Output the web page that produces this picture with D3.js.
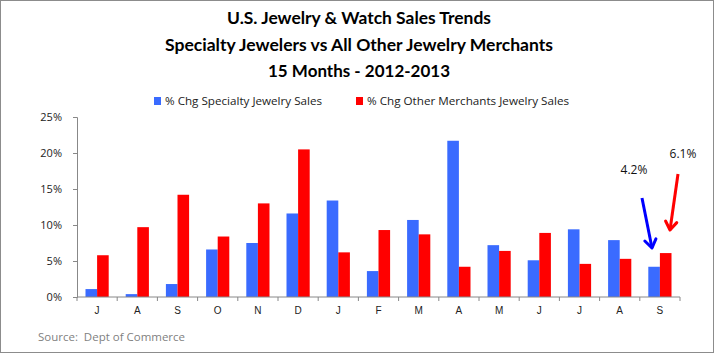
<!DOCTYPE html>
<html><head><meta charset="utf-8">
<script src="https://cdn.jsdelivr.net/npm/d3@7"></script>
<style>body{margin:0;background:#fff}svg{display:block}</style>
</head><body>
<script>
const months = ["J","A","S","O","N","D","J","F","M","A","M","J","J","A","S"];
const specialty = [1.1,0.4,1.8,6.6,7.5,11.6,13.4,3.6,10.7,21.7,7.2,5.1,9.4,7.9,4.2];
const otherMerchants = [5.8,9.7,14.2,8.4,13.0,20.5,6.2,9.3,8.7,4.2,6.4,8.9,4.6,5.3,6.1];
const yTicks = [0,5,10,15,20,25];
const seriesNames = ["% Chg Specialty Jewelry Sales","% Chg Other Merchants Jewelry Sales"];
const titleLines = ["U.S. Jewelry & Watch Sales Trends","Specialty Jewelers vs All Other Jewelry Merchants","15 Months - 2012-2013"];
const colors = ["#3a6bff","#ff0000"];

const W=716,H=355;
const svg=d3.select("body").append("svg").attr("width",W).attr("height",H);
svg.append("rect").attr("x",0.5).attr("y",0.5).attr("width",713).attr("height",352).attr("fill","#fff").attr("stroke","#8c8c8c");

const x=d3.scaleBand().domain(d3.range(months.length)).range([77,680]);
const y=d3.scaleLinear().domain([0,25]).range([297,117]);

// titles
const tw=[264,388,182];
const ty=[24,51,77];
titleLines.forEach((t,i)=>{
  svg.append("text").attr("x",359).attr("y",ty[i]).attr("text-anchor","middle")
    .attr("font-family","Lato, 'Open Sans', sans-serif").attr("font-weight","bold").attr("font-size",17)
    .attr("fill","#000").attr("textLength",tw[i]).attr("lengthAdjust","spacingAndGlyphs").text(t);
});

// legend
const lx=[154,356], lw=[157,202];
seriesNames.forEach((s,i)=>{
  svg.append("rect").attr("x",lx[i]).attr("y",97).attr("width",7).attr("height",8).attr("fill",colors[i]);
  svg.append("text").attr("x",lx[i]+11).attr("y",105).attr("font-family","'Open Sans', sans-serif").attr("font-size",11)
    .attr("fill","#222").attr("textLength",lw[i]).attr("lengthAdjust","spacingAndGlyphs").text(s);
});

// bars
const bw=11.6;
const data=[specialty,otherMerchants];
data.forEach((vals,si)=>{
  svg.append("g").selectAll("rect").data(vals).join("rect")
    .attr("x",(d,i)=>x(i)+x.bandwidth()/2-bw+si*bw)
    .attr("width",bw)
    .attr("y",d=>y(d)).attr("height",d=>y(0)-y(d))
    .attr("fill",colors[si]);
});

// y axis
const yAxis=svg.append("g").attr("transform","translate(77,0)")
  .call(d3.axisLeft(y).tickValues(yTicks).tickSize(4).tickFormat(d=>d+"%"));
yAxis.select(".domain").attr("stroke","#888");
yAxis.selectAll(".tick line").attr("stroke","#888");
yAxis.selectAll("text").attr("font-family","'Open Sans', sans-serif").attr("font-size",11).attr("fill","#222").attr("x",-15);

// x axis
const xAxis=svg.append("g").attr("transform","translate(0,297)")
  .call(d3.axisBottom(x).tickSize(0).tickFormat(i=>months[i]));
xAxis.select(".domain").attr("stroke","#888").attr("d","M77,0H680");
xAxis.selectAll("text").attr("font-family","'Liberation Sans', Arial, sans-serif").attr("font-size",10).attr("fill","#222").attr("dy","1.4em");
svg.append("g").selectAll("line").data(d3.range(months.length+1)).join("line")
  .attr("x1",i=>77+i*x.step()).attr("x2",i=>77+i*x.step()).attr("y1",297).attr("y2",301).attr("stroke","#888");

// annotations
const ann=[{t:"4.2%",tx:634,ty:174,x1:642,y1:198,x2:652,y2:248,c:"#0000ff"},
           {t:"6.1%",tx:683,ty:158,x1:678,y1:174,x2:670,y2:230,c:"#ff0000"}];
ann.forEach(a=>{
  svg.append("text").attr("x",a.tx).attr("y",a.ty).attr("text-anchor","middle")
    .attr("font-family","'Open Sans', sans-serif").attr("font-size",12).attr("fill","#111").text(a.t);
  svg.append("line").attr("x1",a.x1).attr("y1",a.y1).attr("x2",a.x2).attr("y2",a.y2)
    .attr("stroke",a.c).attr("stroke-width",3);
  const ang=Math.atan2(a.y2-a.y1,a.x2-a.x1);
  const L=10, s=0.6;
  const p=[[a.x2-L*Math.cos(ang-s),a.y2-L*Math.sin(ang-s)],[a.x2,a.y2],[a.x2-L*Math.cos(ang+s),a.y2-L*Math.sin(ang+s)]];
  svg.append("path").attr("d",d3.line()(p)).attr("fill","none").attr("stroke",a.c).attr("stroke-width",3).attr("stroke-linecap","round").attr("stroke-linejoin","round");
});

// source
svg.append("text").attr("x",38).attr("y",341).attr("font-family","'Open Sans', sans-serif").attr("font-size",11)
  .attr("fill","#7f7f7f").attr("xml:space","preserve").style("white-space","pre")
  .attr("textLength",147).attr("lengthAdjust","spacingAndGlyphs").text("Source:  Dept of Commerce");
</script>
</body></html>
